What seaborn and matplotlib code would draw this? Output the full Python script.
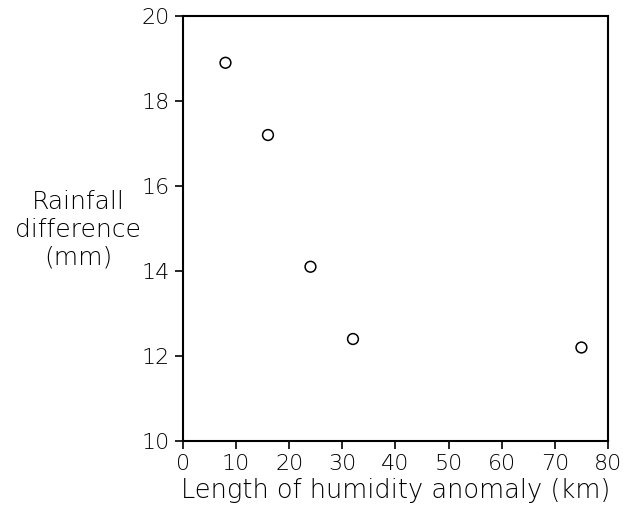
import matplotlib
matplotlib.use("Agg")
import matplotlib.pyplot as plt
import seaborn as sns
import pandas as pd

length_km = [8, 16, 24, 32, 75]
rain_diff = [18.9, 17.2, 14.1, 12.4, 12.2]

sns.set_theme(style="ticks")
plt.rcParams['font.family'] = ['DejaVu Sans']
plt.rcParams['text.color'] = 'black'
plt.rcParams['axes.labelcolor'] = 'black'

df = pd.DataFrame({'length': length_km, 'rain': rain_diff})

fig = plt.figure(figsize=(6.23, 5.12), dpi=100)
ax = fig.add_axes([0.2937, 0.1387, 0.6822, 0.830])

sns.scatterplot(data=df, x='length', y='rain', ax=ax, marker='o', s=60,
                facecolor='none', edgecolor='black', linewidth=1.1)

ax.set_xlim(0, 80)
ax.set_ylim(10, 20)
ax.set_xticks(range(0, 81, 10))
ax.set_yticks(range(10, 21, 2))
ax.tick_params(direction='out', length=6, width=1.2, labelsize=16, colors='black')
for lab in ax.get_xticklabels() + ax.get_yticklabels():
    lab.set_fontweight('light')
for sp in ax.spines.values():
    sp.set_visible(True)
    sp.set_linewidth(1.5)
    sp.set_color('black')

ax.set_xlabel('Length of humidity anomaly (km)', fontsize=18.5, fontweight='light',
              labelpad=3, color='black')
ax.set_ylabel('')
fig.text(78 / 623, 1 - 230 / 512, 'Rainfall\ndifference\n(mm)', ha='center', va='center',
         fontsize=18, fontweight='light', linespacing=1.2, color='black')

fig.savefig('out.png', dpi=100)
